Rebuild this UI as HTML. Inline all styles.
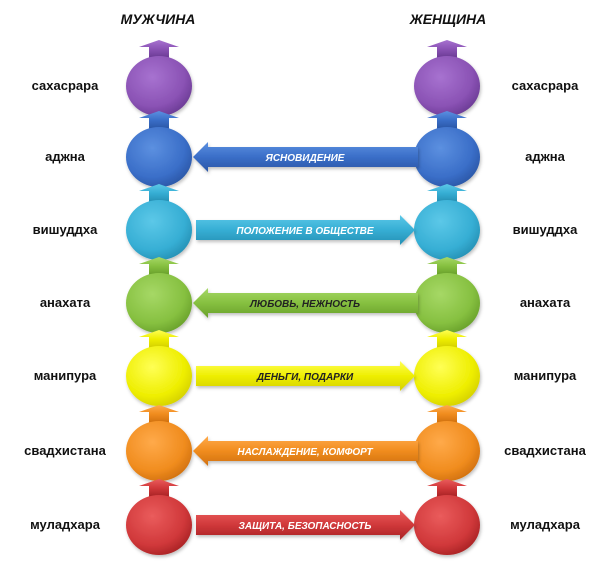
<!DOCTYPE html>
<html><head><meta charset="utf-8"><style>
html,body{margin:0;padding:0;background:#fff;}
svg{display:block;}
text{font-family:"Liberation Sans",Arial,sans-serif;}
.lbl{font-size:13px;font-weight:bold;fill:#111;text-anchor:middle;}
.t{font-size:10px;font-weight:bold;font-style:italic;text-anchor:middle;}
</style></head><body>
<svg width="600" height="575" viewBox="0 0 600 575" xmlns="http://www.w3.org/2000/svg">
<defs>
<filter id="sh" x="-20%" y="-20%" width="140%" height="140%"><feDropShadow dx="1" dy="2" stdDeviation="1.5" flood-color="#000" flood-opacity="0.25"/></filter>
</defs>
<text x="158" y="24" class="lbl" style="font-style:italic;font-size:14px">МУЖЧИНА</text>
<text x="448" y="24" class="lbl" style="font-style:italic;font-size:14px">ЖЕНЩИНА</text>
<g id="rows"></g>
</svg>
<script>
const rows=[
 ["сахасрара",86,"#8a52b4","#a772d0","#6a3a94",null,0,"#fff"],
 ["аджна",157,"#3a6ec8","#5c90e0","#2a56a6","ЯСНОВИДЕНИЕ",-1,"#fff"],
 ["вишуддха",230,"#36aed4","#5cc8e8","#2590b4","ПОЛОЖЕНИЕ В ОБЩЕСТВЕ",1,"#fff"],
 ["анахата",303,"#86c040","#a6d866","#68a02a","ЛЮБОВЬ,  НЕЖНОСТЬ",-1,"#222"],
 ["манипура",376,"#eeee00","#ffff55","#d4d000","ДЕНЬГИ,  ПОДАРКИ",1,"#222"],
 ["свадхистана",451,"#f08c1e","#ffaa4a","#d0700e","НАСЛАЖДЕНИЕ,  КОМФОРТ",-1,"#fff"],
 ["муладхара",525,"#d0383a","#ea5c5c","#a82224","ЗАЩИТА,  БЕЗОПАСНОСТЬ",1,"#fff"]];
let s="";
rows.forEach((r,i)=>{
 const [n,y,c,l,d,t,dir,tc]=r;
 s+=`<radialGradient id="g${i}" cx="40%" cy="35%" r="70%"><stop offset="0" stop-color="${l}"/><stop offset="0.7" stop-color="${c}"/><stop offset="1" stop-color="${d}"/></radialGradient>`;
 s+=`<linearGradient id="a${i}" x1="0" y1="0" x2="0" y2="1"><stop offset="0" stop-color="${l}"/><stop offset="0.5" stop-color="${c}"/><stop offset="1" stop-color="${d}"/></linearGradient>`;
 [159,447].forEach(cx=>{
  const top=y-31;
  s+=`<path d="M${cx-20} ${top-8} L${cx} ${top-15} L${cx+20} ${top-8} L${cx+10} ${top-8} L${cx+10} ${top+3} L${cx-10} ${top+3} L${cx-10} ${top-8} Z" fill="url(#a${i})"/>`;
  s+=`<ellipse cx="${cx}" cy="${y}" rx="33" ry="30" fill="url(#g${i})" filter="url(#sh)"/>`;
 });
 s+=`<text x="65" y="${y+4}" class="lbl">${n}</text><text x="545" y="${y+4}" class="lbl">${n}</text>`;
 if(dir==-1){
  s+=`<path d="M193 ${y} L208 ${y-15} L208 ${y-10} L418 ${y-10} L418 ${y+10} L208 ${y+10} L208 ${y+15} Z" fill="url(#a${i})" filter="url(#sh)"/>`;
 } else if(dir==1){
  s+=`<path d="M196 ${y-10} L400 ${y-10} L400 ${y-15} L415 ${y} L400 ${y+15} L400 ${y+10} L196 ${y+10} Z" fill="url(#a${i})" filter="url(#sh)"/>`;
 }
 if(t) s+=`<text x="305" y="${y+4}" class="t" fill="${tc}">${t}</text>`;
});
document.getElementById("rows").innerHTML=s;
</script>
</body></html>
